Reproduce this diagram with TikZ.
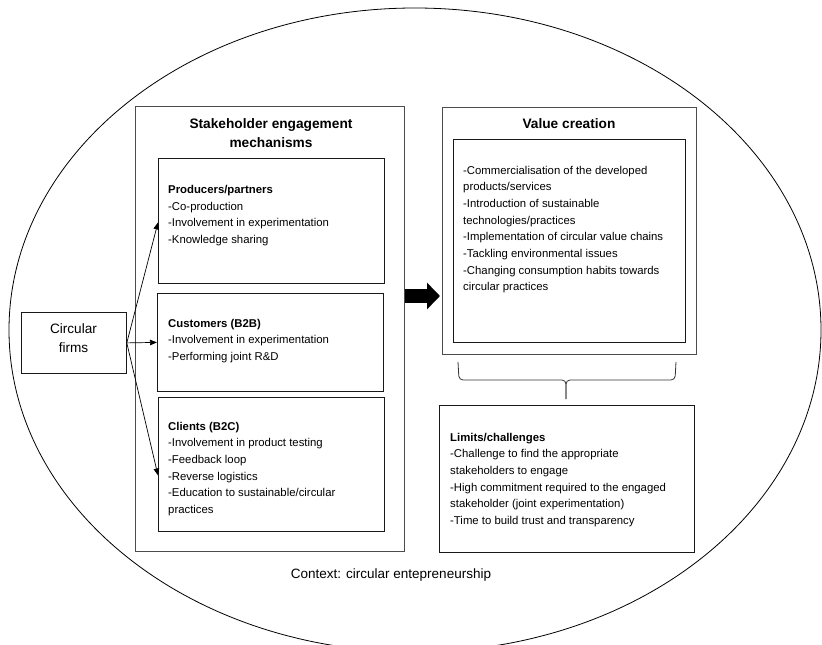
\documentclass[tikz,border=0pt]{standalone}
\usepackage{fontspec}
\setmainfont{Liberation Sans}
\usetikzlibrary{arrows.meta,calc}
\begin{document}
\begin{tikzpicture}[x=1pt,y=-1pt,
  frame/.style={draw=black!70, line width=0.8pt, inner sep=0pt, anchor=north west},
  panel/.style={draw=black!90, line width=0.8pt, inner sep=0pt, anchor=north west},
  % multi-line nodes: the base anchor sits on the last line's baseline
  body/.style={font=\fontsize{11.35}{16.7}\selectfont, align=left, inner sep=0pt, anchor=base west},
  heading/.style={font=\fontsize{13.7}{19.5}\selectfont\bfseries, align=center, inner sep=0pt, anchor=base},
  label/.style={font=\fontsize{13.5}{19.7}\selectfont, align=center, inner sep=0pt, anchor=base},
  link/.style={-{Triangle[length=7pt,width=5.5pt]}, line width=0.7pt},
  bigarrow/.style={line width=14pt, -{Triangle[length=13pt,width=26pt]}},
  brace/.style={line width=0.8pt, black!80, rounded corners=4pt}
]
\useasboundingbox (0,0) rectangle (822,645);

% context
\draw[line width=0.8pt] (415,330) ellipse [x radius=406pt, y radius=322pt];
\node[label] (context) at (391,578) {Context: circular entepreneurship};

% stakeholder engagement mechanisms
\node[frame, minimum width=269pt, minimum height=445pt] (sem) at (135,106) {};
\node[heading] (semtitle) at (271,147.8) {Stakeholder engagement\\mechanisms};

\node[panel, minimum width=226pt, minimum height=125pt] (prod) at (158,158) {};
\node[body] (prodtext) at (168,243.4)
  {\textbf{Producers/partners}\\-Co-production\\-Involvement in experimentation\\-Knowledge sharing};

\node[panel, minimum width=226pt, minimum height=98pt] (cust) at (157,293) {};
\node[body] (custtext) at (168,360.4)
  {\textbf{Customers (B2B)}\\-Involvement in experimentation\\-Performing joint R\&D};

\node[panel, minimum width=226pt, minimum height=134pt] (cli) at (158,397) {};
\node[body] (clitext) at (168,513.5)
  {\textbf{Clients (B2C)}\\-Involvement in product testing\\-Feedback loop\\-Reverse logistics\\-Education to sustainable/circular\\practices};

% circular firms
\node[panel, minimum width=105pt, minimum height=61pt] (firms) at (21,312) {};
\node[label, font=\fontsize{13.6}{19.7}\selectfont] (firmstext) at (73.5,352.7) {Circular\\firms};

\draw[link] (firms.east) -- ([yshift=-1.5pt]prod.west);
\draw[link] (firms.east) -- (cust.west);
\draw[link] (firms.east) -- ([yshift=-11pt]cli.west);

% value creation
\node[frame, minimum width=254pt, minimum height=247pt] (vc) at (442,107) {};
\node[heading] (vctitle) at (569,128.3) {Value creation};
\node[panel, minimum width=232pt, minimum height=203pt] (vci) at (453,139) {};
\node[body] (vctext) at (463,290.9)
  {-Commercialisation of the developed\\products/services\\-Introduction of sustainable\\technologies/practices\\-Implementation of circular value chains\\-Tackling environmental issues\\-Changing consumption habits towards\\circular practices};

\draw[bigarrow] (sem.east |- 0,296) -- ([xshift=-2pt]vc.west |- 0,296);

% limits
\node[panel, minimum width=255pt, minimum height=147pt] (lim) at (439,405) {};
\node[body] (limtext) at (450,524.5)
  {\textbf{Limits/challenges}\\-Challenge to find the appropriate\\stakeholders to engage\\-High commitment required to the engaged\\stakeholder (joint experimentation)\\-Time to build trust and transparency};

% brace from value creation to limits
\coordinate (bl) at (458,362);
\coordinate (br) at (676,362);
\coordinate (bm) at (566,380);
\coordinate (btip) at (566,399);
\draw[brace] (bl) -- (459,380) -- (bm) -- (btip);
\draw[brace] (br) -- (675,380) -- (bm) -- (btip);
\end{tikzpicture}
\end{document}
